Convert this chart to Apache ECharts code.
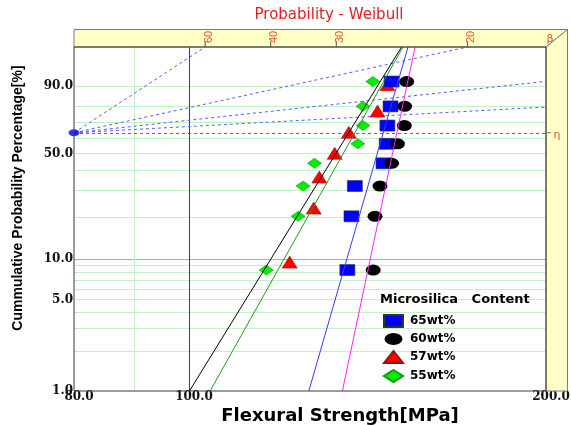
<!DOCTYPE html>
<html><head><meta charset="utf-8">
<script src="https://cdn.jsdelivr.net/npm/echarts@6/dist/echarts.min.js"></script>
<style>html,body{margin:0;padding:0;background:#fff}#c{width:571px;height:425px}</style>
</head><body><div id="c"></div>
<script>
// ---------- data ----------
const probs8 = [8.3, 20.2, 32.1, 44.0, 56.0, 67.9, 79.8, 91.7];   // cumulative probability [%]
const probs7 = [9.5, 23.0, 36.5, 50.0, 63.5, 77.0, 90.5];
const s65 = [136.0, 137.1, 138.0, 145.9, 146.8, 147.0, 147.9, 148.2]; // flexural strength [MPa]
const s60 = [143.0, 143.5, 144.9, 148.2, 149.9, 151.9, 152.0, 152.6];
const s57 = [121.6, 127.4, 128.8, 132.7, 136.4, 144.2, 147.0];
const s55 = [116.2, 123.6, 124.8, 127.6, 138.8, 140.2, 140.2, 142.9];
// fitted Weibull lines: strength at 1% and at 99%
const fitLow  = [100.1, 104.2, 126.2, 134.7];
const fitHigh = [151.1, 151.5, 153.0, 155.1];
// axes
const xMin = 80, xMax = 200;
const pMin = 1, pMax = 99;
const xTickVals = [80, 100, 200];
const xTickLabels = ['80.0', '100.0', '200.0'];
const yTickVals = [99, 90, 50, 10, 5, 1];
const yTickLabels = ['99.0', '90.0', '50.0', '10.0', '5.0', '1.0'];
const yGridGreen = [2, 3, 4, 5, 6, 7, 8, 9, 20, 30, 40, 50, 60, 70, 80, 90];
const yGridRed = [10];
const xGridGreen = [90];
const xGridRed = [100];
// beta / eta estimation fan
const pivot = [80, 63.2];
const fanBetas = [6, 2, 1, 0.5, 0];
const betaTicks = [6, 4, 3, 2];
const betaLabels = ['60', '40', '30', '20'];

// ---------- helpers ----------
const wz = p => Math.log(-Math.log(1 - p / 100));   // Weibull probability scale
const zMin = wz(pMin), zMax = wz(pMax);
const pts = (xs, ps) => xs.map((x, i) => [x, wz(ps[i])]);

const FS = 'DejaVu Sans';
const labelFont = {fontFamily: 'DejaVu Serif', fontWeight: 'bold', fontSize: 12, color: '#111'};

const gridLines = [];
yGridGreen.forEach(p => gridLines.push({yAxis: wz(p), lineStyle: {color: '#c4f0c4', width: 1, type: 'solid'}}));
yGridRed.forEach(p => gridLines.push({yAxis: wz(p), lineStyle: {color: '#f29090', width: 1, type: 'solid'}}));
xGridGreen.forEach(v => gridLines.push({xAxis: v, lineStyle: {color: '#c4f0c4', width: 1, type: 'solid'}}));
xGridRed.forEach(v => gridLines.push({xAxis: v, lineStyle: {color: '#a01818', width: 1, type: 'solid'}}));

const labelLines = [];
yTickVals.forEach((p, i) => labelLines.push({yAxis: wz(p), lineStyle: {color: 'rgba(0,0,0,0)'},
  label: Object.assign({show: true, position: 'start', distance: 1, formatter: yTickLabels[i]}, labelFont)}));
xTickVals.forEach((v, i) => labelLines.push({xAxis: v, lineStyle: {color: 'rgba(0,0,0,0)'},
  label: Object.assign({show: true, position: 'start', distance: 0, padding: [0, 0, 0, 10], formatter: xTickLabels[i]}, labelFont)}));

const z0 = wz(pivot[1]);
const fanLines = fanBetas.map(b => {
  let end;
  if (b > 0) {
    const xTop = pivot[0] * Math.exp((zMax - z0) / b);
    end = xTop <= xMax ? [xTop, zMax] : [xMax, z0 + b * Math.log(xMax / pivot[0])];
  } else end = [xMax, z0];
  return [{coord: [pivot[0], z0]}, {coord: end}];
});

const fitColors = ['#000000', '#229922', '#3838ff', '#ff20ff'];
const fitSeries = fitLow.map((lo, i) => ({
  type: 'line', silent: true, symbol: 'none', z: 6,
  data: [[lo, zMin], [fitHigh[i], zMax]],
  lineStyle: {color: fitColors[i], width: 1}
}));

const option = {
  animation: false,
  backgroundColor: '#fff',
  grid: {left: 74, right: 25, top: 47, bottom: 34, containLabel: false},
  xAxis: {type: 'log', logBase: 10, min: xMin, max: xMax,
    axisLine: {show: false}, axisTick: {show: false}, axisLabel: {show: false}, splitLine: {show: false}},
  yAxis: {type: 'value', min: zMin, max: zMax,
    axisLine: {show: false}, axisTick: {show: false}, axisLabel: {show: false}, splitLine: {show: false}},
  legend: {
    orient: 'vertical', left: 378, top: 309, padding: 5, itemWidth: 19, itemHeight: 12, itemGap: 5,
    data: ['65wt%', '60wt%', '57wt%', '55wt%'],
    textStyle: {fontFamily: FS, fontWeight: 'bold', fontSize: 12, color: '#000', padding: [0, 0, 0, 2]},
    selectedMode: false
  },
  series: [
    {type: 'line', data: [], silent: true, z: 1,
      markLine: {silent: true, z: 1, symbol: ['none', 'none'], label: {show: false}, data: gridLines}},
    {type: 'line', data: [], silent: true, z: 2,
      markLine: {silent: true, z: 2, symbol: ['none', 'none'], label: {show: false},
        lineStyle: {color: '#5a5aff', width: 1, type: [3, 3]}, data: fanLines}},
    {type: 'line', data: [], silent: true, z: 2,
      markLine: {silent: true, z: 2, symbol: ['none', 'none'], data: labelLines}},
    {name: '55wt%', type: 'scatter', z: 4, symbol: 'diamond', symbolSize: [14, 10],
      itemStyle: {color: '#00ee00', borderColor: '#119911', borderWidth: 0.6, opacity: 1}, data: pts(s55, probs8)},
    {name: '57wt%', type: 'scatter', z: 4, symbol: 'triangle', symbolSize: [15, 12],
      itemStyle: {color: '#ff0000', borderColor: '#991111', borderWidth: 0.6, opacity: 1}, data: pts(s57, probs7)},
    {name: '65wt%', type: 'scatter', z: 4, symbol: 'rect', symbolSize: [15, 11],
      itemStyle: {color: '#0000ff', borderColor: '#333', borderWidth: 0.6, opacity: 1}, data: pts(s65, probs8)},
    {name: '60wt%', type: 'scatter', z: 5, symbol: 'path://M0,5a7.5,5 0 1,0 15,0a7.5,5 0 1,0 -15,0z', symbolSize: [15, 11],
      itemStyle: {color: '#000000', opacity: 1}, data: pts(s60, probs8)},
    {type: 'scatter', z: 5, clip: false, silent: true, symbol: 'path://M0,5a7.5,5 0 1,0 15,0a7.5,5 0 1,0 -15,0z', symbolSize: [11, 7],
      itemStyle: {color: '#0000ff'}, data: [[pivot[0], z0]]}
  ].concat(fitSeries)
};

const chart = echarts.init(document.getElementById('c'), null, {renderer: 'canvas'});
chart.setOption(option);

// ---------- frame, top beta scale and titles (positions from the library's scales) ----------
const P = (x, z) => chart.convertToPixel({gridIndex: 0}, [x, z]);
const tl = P(xMin, zMax), br = P(xMax, zMin);
const L = tl[0], T = tl[1], R = br[0], B = br[1];
const dx = 21.5, dy = 17.5;
const band = {fill: '#ffffc8', stroke: '#7a7a7a', lineWidth: 1};
const g = [
  {type: 'polygon', z: 50, shape: {points: [[L, T - dy], [R + dx, T - dy], [R, T], [L, T]]}, style: band},
  {type: 'polygon', z: 50, shape: {points: [[R, T], [R + dx, T - dy], [R + dx, B], [R, B]]}, style: band},
  {type: 'rect', z: 60, shape: {x: L, y: T, width: R - L, height: B - T}, style: {fill: null, stroke: '#3a3a3a', lineWidth: 1}},
  {type: 'text', z: 60, x: 329, y: 15, style: {text: 'Probability - Weibull', fill: '#e02020', font: '15px "DejaVu Sans"', textAlign: 'center', textVerticalAlign: 'middle'}},
  {type: 'text', z: 60, x: 18, y: 198, rotation: Math.PI / 2, style: {text: 'Cummulative Probability Percentage[%]', fill: '#000', font: 'bold 14px "Liberation Sans Narrow", "Liberation Sans"', textAlign: 'center', textVerticalAlign: 'middle'}},
  {type: 'text', z: 60, x: 340, y: 416, style: {text: 'Flexural Strength[MPa]', fill: '#000', font: 'bold 18px "DejaVu Sans"', textAlign: 'center', textVerticalAlign: 'middle'}},
  {type: 'text', z: 60, x: 380, y: 300, style: {text: 'Microsilica   Content', fill: '#000', font: 'bold 13px "DejaVu Sans"', textAlign: 'left', textVerticalAlign: 'middle'}},
  {type: 'text', z: 61, x: R + 4, y: T - 8, style: {text: 'β', fill: '#e05a30', font: '11px "DejaVu Sans"', textAlign: 'center', textVerticalAlign: 'middle'}}
];
betaTicks.forEach((b, i) => {
  const px = P(pivot[0] * Math.exp((zMax - z0) / b), zMax)[0];
  g.push({type: 'line', z: 61, shape: {x1: px, y1: T - 6, x2: px, y2: T}, style: {stroke: '#555', lineWidth: 1}});
  g.push({type: 'text', z: 61, x: px + 3.5, y: T - 10, rotation: Math.PI / 2,
    style: {text: betaLabels[i], fill: '#e05a30', font: '11px "Liberation Sans Narrow", "Liberation Sans"', textAlign: 'center', textVerticalAlign: 'middle'}});
});
const etaY = P(pivot[0], z0)[1];
g.push({type: 'line', z: 61, shape: {x1: R, y1: etaY, x2: R + 5, y2: etaY}, style: {stroke: '#777', lineWidth: 1}});
g.push({type: 'text', z: 61, x: R + 11, y: etaY + 2, style: {text: 'η', fill: '#e05a30', font: '11px "DejaVu Sans"', textAlign: 'center', textVerticalAlign: 'middle'}});
chart.setOption({graphic: g});
</script></body></html>
